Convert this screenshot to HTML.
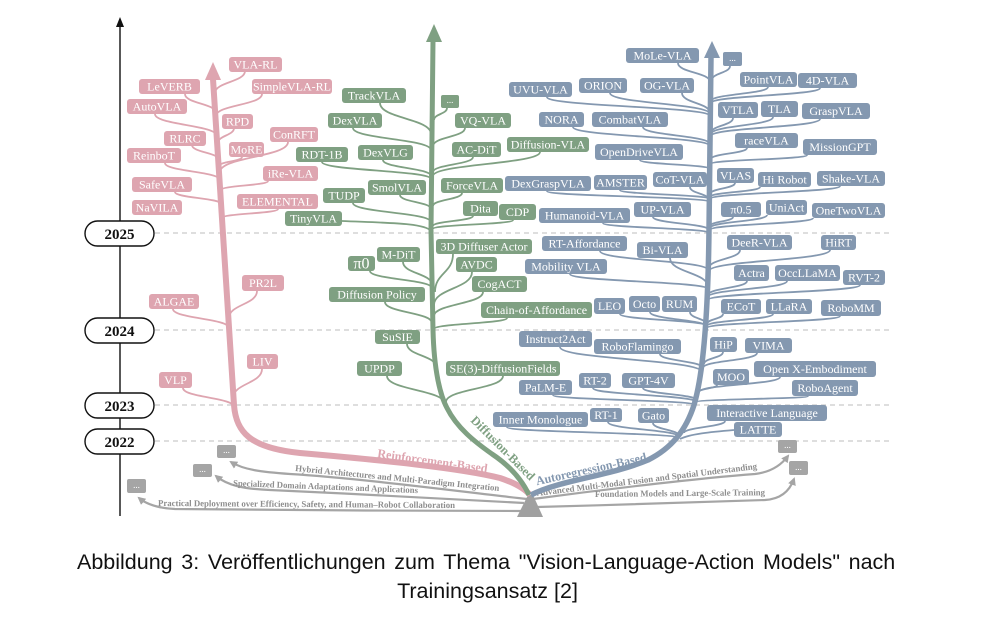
<!DOCTYPE html>
<html><head><meta charset="utf-8"><style>
html,body{margin:0;padding:0;background:#fff;width:987px;height:637px;overflow:hidden;position:relative}
svg{position:absolute;left:0;top:0}
.bx text{font-family:"Liberation Serif",serif;font-size:12px;fill:#fff;text-anchor:middle}
.yr text{font-family:"Liberation Serif",serif;font-size:15px;font-weight:bold;fill:#111;text-anchor:middle}
.gt{font-family:"Liberation Serif",serif;font-size:9px;font-weight:bold;fill:#8e8e8e}
.cat{font-family:"Liberation Serif",serif;font-size:12.5px;font-weight:bold;text-anchor:middle}
.cap{position:absolute;font-family:"Liberation Sans",Arial,sans-serif;font-size:21.5px;line-height:24px;color:#111;white-space:nowrap}
</style></head><body>
<svg width="987" height="637" viewBox="0 0 987 637" xmlns="http://www.w3.org/2000/svg">
<defs>
<marker id="ga" markerWidth="8" markerHeight="8" refX="6" refY="4" orient="auto" markerUnits="userSpaceOnUse"><path d="M0,0 L8,4 L0,8 z" fill="#a5a5a5"/></marker>
</defs>

<!-- dashed year lines -->
<g stroke="#bdbdbd" stroke-width="1" stroke-dasharray="5,4">
<line x1="155" y1="233" x2="892" y2="233"/>
<line x1="155" y1="330" x2="892" y2="330"/>
<line x1="155" y1="405" x2="892" y2="405"/>
<line x1="155" y1="441" x2="892" y2="441"/>
</g>

<!-- time axis -->
<line x1="120" y1="24" x2="120" y2="516" stroke="#111" stroke-width="1.4"/>
<polygon points="120,17 116,27 124,27" fill="#111"/>

<!-- gray lines -->
<g fill="none" stroke="#a5a5a5" stroke-width="2.2" marker-end="url(#ga)">
<path d="M527,499 C480,494 360,478 290,474 C262,472 244,470 231,462"/>
<path d="M524,503 C470,500 360,494 270,490 C245,489 228,486 216,476"/>
<path d="M521,511 C420,511 260,510 175,509 C155,508 145,503 139,498"/>
<path d="M533,499 C600,490 700,478 755,474 C772,472 782,464 788,456"/>
<path d="M537,507 C620,505 720,501 765,500 C782,499 790,490 794,479"/>
</g>
<g class="gt">
<text x="295" y="471" transform="rotate(5.6 295 471)" textLength="205" lengthAdjust="spacingAndGlyphs">Hybrid Architectures and Multi-Paradigm Integration</text>
<text x="233" y="486" transform="rotate(2.2 233 486)" textLength="185" lengthAdjust="spacingAndGlyphs">Specialized Domain Adaptations and Applications</text>
<text x="158" y="506" transform="rotate(0.4 158 506)" textLength="297" lengthAdjust="spacingAndGlyphs">Practical Deployment over Efficiency, Safety, and Human–Robot Collaboration</text>
<text x="537" y="496" transform="rotate(-7 537 496)" textLength="222" lengthAdjust="spacingAndGlyphs">Advanced Multi-Modal Fusion and Spatial Understanding</text>
<text x="595" y="497" transform="rotate(-0.6 595 497)" textLength="170" lengthAdjust="spacingAndGlyphs">Foundation Models and Large-Scale Training</text>
</g>
<g fill="#a5a5a5">
<rect x="217" y="445" width="19" height="13" rx="2"/>
<rect x="193" y="464" width="19" height="13" rx="2"/>
<rect x="127" y="479" width="19" height="14" rx="2"/>
<rect x="778" y="440" width="19" height="13" rx="2"/>
<rect x="789" y="461" width="19" height="14" rx="2"/>
</g>
<g font-family="Liberation Serif, serif" font-size="9" fill="#fff" text-anchor="middle">
<text x="226.5" y="453">...</text><text x="202.5" y="472">...</text><text x="136.5" y="488">...</text>
<text x="787.5" y="448">...</text><text x="798.5" y="470">...</text>
</g>
<polygon points="528,495 533,495 543,517 517,517" fill="#a0a0a0"/>

<!-- pink branches -->
<g fill="none" stroke="#dea5b0" stroke-width="1.8">
<path d="M245,71 C245,82 215,82 215,93"/>
<path d="M185,94 C185,103.5 216,103.5 216,113"/>
<path d="M262,94 C262,105 216,105 216,116"/>
<path d="M155,114 C155,125 217,125 217,136"/>
<path d="M234,128 C234,135.5 218,135.5 218,143"/>
<path d="M192,145 C192,152.5 219,152.5 219,160"/>
<path d="M288,142 C288,157 220,157 220,172"/>
<path d="M242,157 C242,161.5 219,161.5 219,166"/>
<path d="M165,163 C165,171.5 220,171.5 220,180"/>
<path d="M268,181 C268,185.5 221,185.5 221,190"/>
<path d="M175,192 C175,198 221,198 221,204"/>
<path d="M278,209 C278,213.5 222,213.5 222,218"/>
<path d="M257,291 C257,304.5 229,304.5 229,318"/>
<path d="M173,309 C173,318.5 229,318.5 229,328"/>
<path d="M262,369 C262,383.5 233,383.5 233,398"/>
<path d="M183,388 C183,397.5 234,397.5 234,407"/>
</g>
<!-- green branches -->
<g fill="none" stroke="#7fa082" stroke-width="1.8">
<path d="M447,108 C447,114 434,114 434,120"/>
<path d="M380,103 C380,118.5 431,118.5 431,134"/>
<path d="M353,128 C353,139 431,139 431,150"/>
<path d="M465,128 C465,137 433,137 433,146"/>
<path d="M383,160 C383,168 431,168 431,176"/>
<path d="M322,162 C322,170.5 431,170.5 431,179"/>
<path d="M473,157 C473,164.5 433,164.5 433,172"/>
<path d="M540,152 C540,164 433,164 433,176"/>
<path d="M400,195 C400,202 431,202 431,209"/>
<path d="M462,193 C462,199.5 433,199.5 433,206"/>
<path d="M353,203 C353,212.5 431,212.5 431,222"/>
<path d="M342,221 C390,223 425,223 431,231"/>
<path d="M473,216 C473,221 433,221 433,226"/>
<path d="M513,220 C513,224.5 433,224.5 433,229"/>
<path d="M453,254 C453,273 435,273 435,292"/>
<path d="M403,262 C403,273.5 432,273.5 432,285"/>
<path d="M370,271 C370,279.5 432,279.5 432,288"/>
<path d="M472,272 C472,288.5 434,288.5 434,305"/>
<path d="M483,292 C483,304 434,304 434,316"/>
<path d="M385,302 C385,312.5 432,312.5 432,323"/>
<path d="M507,318 C507,323.5 434,323.5 434,329"/>
<path d="M407,344 C407,355.5 436,355.5 436,367"/>
<path d="M387,376 C387,390 445,390 445,404"/>
<path d="M503,376 C503,389 446,389 446,402"/>
</g>
<!-- blue branches -->
<g fill="none" stroke="#8498b0" stroke-width="1.8">
<path d="M678,63 C678,72.5 710,72.5 710,82"/>
<path d="M730,66 C730,73 712,73 712,80"/>
<path d="M682,93 C682,103 710,103 710,113"/>
<path d="M610,93 C610,103.5 710,103.5 710,114"/>
<path d="M547,97 C547,106.5 710,106.5 710,116"/>
<path d="M768,87 C768,94 711,94 711,101"/>
<path d="M820,88 C820,95.5 711,95.5 711,103"/>
<path d="M573,127 C573,136.5 710,136.5 710,146"/>
<path d="M643,127 C643,135.5 710,135.5 710,144"/>
<path d="M733,118 C733,125.5 711,125.5 711,133"/>
<path d="M773,117 C773,125.5 711,125.5 711,134"/>
<path d="M820,119 C820,127.5 711,127.5 711,136"/>
<path d="M640,160 C640,164.5 710,164.5 710,169"/>
<path d="M747,148 C747,153.5 711,153.5 711,159"/>
<path d="M807,155 C807,159.5 711,159.5 711,164"/>
<path d="M690,187 C690,193.5 709,193.5 709,200"/>
<path d="M620,190 C620,194.5 709,194.5 709,199"/>
<path d="M547,191 C547,196.5 709,196.5 709,202"/>
<path d="M735,183 C735,188.5 710,188.5 710,194"/>
<path d="M760,187 C760,192 710,192 710,197"/>
<path d="M840,186 C840,192.5 710,192.5 710,199"/>
<path d="M603,223 C603,228 709,228 709,233"/>
<path d="M653,217 C653,223.5 709,223.5 709,230"/>
<path d="M733,217 C733,221.5 710,221.5 710,226"/>
<path d="M767,215 C767,221.5 710,221.5 710,228"/>
<path d="M813,218 C813,224 710,224 710,230"/>
<path d="M600,251 C600,260.5 708,260.5 708,270"/>
<path d="M570,274 C570,281.5 708,281.5 708,289"/>
<path d="M670,258 C670,272.5 708,272.5 708,287"/>
<path d="M740,250 C740,259 709,259 709,268"/>
<path d="M830,250 C830,260.5 709,260.5 709,271"/>
<path d="M747,281 C747,288 708,288 708,295"/>
<path d="M787,281 C787,289 708,289 708,297"/>
<path d="M860,285 C860,292.5 708,292.5 708,300"/>
<path d="M620,314 C620,320 707,320 707,326"/>
<path d="M650,312 C650,319.5 707,319.5 707,327"/>
<path d="M690,312 C690,318.5 707,318.5 707,325"/>
<path d="M723,314 C723,319 707,319 707,324"/>
<path d="M773,314 C773,320 707,320 707,326"/>
<path d="M840,316 C840,322 707,322 707,328"/>
<path d="M560,347 C560,359.5 702,359.5 702,372"/>
<path d="M660,354 C660,361 703,361 703,368"/>
<path d="M723,352 C723,358 704,358 704,364"/>
<path d="M757,353 C757,360.5 703,360.5 703,368"/>
<path d="M780,377 C780,384.5 699,384.5 699,392"/>
<path d="M717,385 C717,388.5 699,388.5 699,392"/>
<path d="M808,396 C808,399 697,399 697,402"/>
<path d="M593,388 C593,395 696,395 696,402"/>
<path d="M643,388 C643,394 696,394 696,400"/>
<path d="M553,395 C553,400 695,400 695,405"/>
<path d="M608,422 C608,429.5 679,429.5 679,437"/>
<path d="M653,423 C653,429.5 679,429.5 679,436"/>
<path d="M507,427 C507,432.5 678,432.5 678,438"/>
<path d="M725,421 C725,427 684,427 684,433"/>
<path d="M734,430 C710,432 690,434 680,439"/>
</g>

<!-- trunks -->
<path d="M213,79 L234,405 C236,432 250,448 300,453 C380,460 460,468 500,478 C515,483 524,488 530,495" fill="none" stroke="#dea5b0" stroke-width="6"/>
<polygon points="213,62 205,80 221,80" fill="#dea5b0"/>
<path d="M433,40 L431,230 L433,330 C434,370 440,395 447,408 C457,428 475,442 492,454 C510,466 522,480 529,495" fill="none" stroke="#7fa082" stroke-width="5"/>
<polygon points="434,24 426,42 442,42" fill="#7fa082"/>
<path d="M711,57 L709,230 C708,320 703,375 694,405 C686,430 672,448 648,460 C610,476 560,480 531,495" fill="none" stroke="#8498b0" stroke-width="5.5"/>
<polygon points="712,41 704,58 720,58" fill="#8498b0"/>

<!-- category labels -->
<text class="cat" fill="#dea5b0" x="432" y="465" transform="rotate(8 432 465)" textLength="111" lengthAdjust="spacingAndGlyphs">Reinforcement-Based</text>
<text class="cat" fill="#7fa082" x="500" y="451" transform="rotate(45 500 451)" textLength="85" lengthAdjust="spacingAndGlyphs">Diffusion-Based</text>
<text class="cat" fill="#8498b0" x="592" y="473" transform="rotate(-12.5 592 473)" textLength="113" lengthAdjust="spacingAndGlyphs">Autoregression-Based</text>

<!-- pink boxes -->
<g class="bx" fill="#dea5b0">
<rect x="229" y="57" width="53" height="15" rx="3"/><text x="255.5" y="68.5">VLA-RL</text>
<rect x="139" y="79" width="61" height="15" rx="3"/><text x="169.5" y="90.5">LeVERB</text>
<rect x="252" y="79" width="80" height="15" rx="3"/><text x="292" y="90.5">SimpleVLA-RL</text>
<rect x="127" y="99" width="60" height="15" rx="3"/><text x="157" y="110.5">AutoVLA</text>
<rect x="222" y="114" width="31" height="15" rx="3"/><text x="237.5" y="125.5">RPD</text>
<rect x="164" y="131" width="42" height="15" rx="3"/><text x="185" y="142.5">RLRC</text>
<rect x="270" y="127" width="48" height="15" rx="3"/><text x="294" y="138.5">ConRFT</text>
<rect x="229" y="142" width="35" height="15" rx="3"/><text x="246.5" y="153.5">MoRE</text>
<rect x="127" y="148" width="54" height="15" rx="3"/><text x="154" y="159.5">ReinboT</text>
<rect x="263" y="166" width="55" height="15" rx="3"/><text x="290.5" y="177.5">iRe-VLA</text>
<rect x="132" y="177" width="60" height="15" rx="3"/><text x="162" y="188.5">SafeVLA</text>
<rect x="237" y="194" width="81" height="15" rx="3"/><text x="277.5" y="205.5">ELEMENTAL</text>
<rect x="132" y="200" width="50" height="15" rx="3"/><text x="157" y="211.5">NaVILA</text>
<rect x="242" y="275" width="42" height="16" rx="3"/><text x="263" y="287">PR2L</text>
<rect x="149" y="294" width="50" height="15" rx="3"/><text x="174" y="305.5">ALGAE</text>
<rect x="247" y="354" width="31" height="15" rx="3"/><text x="262.5" y="365.5">LIV</text>
<rect x="159" y="372" width="33" height="16" rx="3"/><text x="175.5" y="384">VLP</text>
</g>

<!-- green boxes -->
<g class="bx" fill="#7fa082">
<rect x="342" y="88" width="64" height="15" rx="3"/><text x="374" y="99.5">TrackVLA</text>
<rect x="441" y="95" width="18" height="13" rx="2"/><text x="450" y="103" style="font-size:9px">...</text>
<rect x="328" y="113" width="54" height="15" rx="3"/><text x="355" y="124.5">DexVLA</text>
<rect x="455" y="113" width="56" height="15" rx="3"/><text x="483" y="124.5">VQ-VLA</text>
<rect x="358" y="145" width="55" height="15" rx="3"/><text x="385.5" y="156.5">DexVLG</text>
<rect x="452" y="142" width="49" height="15" rx="3"/><text x="476.5" y="153.5">AC-DiT</text>
<rect x="507" y="137" width="82" height="15" rx="3"/><text x="548" y="148.5">Diffusion-VLA</text>
<rect x="296" y="147" width="52" height="15" rx="3"/><text x="322" y="158.5">RDT-1B</text>
<rect x="368" y="180" width="58" height="15" rx="3"/><text x="397" y="191.5">SmolVLA</text>
<rect x="441" y="178" width="62" height="15" rx="3"/><text x="472" y="189.5">ForceVLA</text>
<rect x="323" y="188" width="42" height="15" rx="3"/><text x="344" y="199.5">TUDP</text>
<rect x="285" y="211" width="57" height="15" rx="3"/><text x="313.5" y="222.5">TinyVLA</text>
<rect x="463" y="201" width="35" height="15" rx="3"/><text x="480.5" y="212.5">Dita</text>
<rect x="499" y="204" width="37" height="16" rx="3"/><text x="517.5" y="216">CDP</text>
<rect x="436" y="239" width="96" height="15" rx="3"/><text x="484" y="250.5">3D Diffuser Actor</text>
<rect x="377" y="247" width="43" height="15" rx="3"/><text x="398.5" y="258.5">M-DiT</text>
<rect x="348" y="256" width="27" height="15" rx="3"/><text x="361.5" y="268.5" style="font-size:16px">π0</text>
<rect x="456" y="257" width="41" height="15" rx="3"/><text x="476.5" y="268.5">AVDC</text>
<rect x="472" y="276" width="55" height="16" rx="3"/><text x="499.5" y="288">CogACT</text>
<rect x="329" y="287" width="96" height="15" rx="3"/><text x="377" y="298.5">Diffusion Policy</text>
<rect x="481" y="302" width="111" height="16" rx="3"/><text x="536.5" y="314">Chain-of-Affordance</text>
<rect x="375" y="330" width="45" height="14" rx="3"/><text x="397.5" y="341">SuSIE</text>
<rect x="357" y="361" width="45" height="15" rx="3"/><text x="379.5" y="372.5">UPDP</text>
<rect x="446" y="361" width="114" height="15" rx="3"/><text x="503" y="372.5">SE(3)-DiffusionFields</text>
</g>

<!-- blue boxes -->
<g class="bx" fill="#8498b0">
<rect x="626" y="48" width="73" height="15" rx="3"/><text x="662.5" y="59.5">MoLe-VLA</text>
<rect x="723" y="52" width="19" height="14" rx="2"/><text x="732.5" y="61" style="font-size:9px">...</text>
<rect x="509" y="82" width="63" height="15" rx="3"/><text x="540.5" y="93.5">UVU-VLA</text>
<rect x="579" y="78" width="48" height="15" rx="3"/><text x="603" y="89.5">ORION</text>
<rect x="640" y="78" width="54" height="15" rx="3"/><text x="667" y="89.5">OG-VLA</text>
<rect x="740" y="72" width="57" height="15" rx="3"/><text x="768.5" y="83.5">PointVLA</text>
<rect x="798" y="73" width="59" height="15" rx="3"/><text x="827.5" y="84.5">4D-VLA</text>
<rect x="539" y="112" width="45" height="15" rx="3"/><text x="561.5" y="123.5">NORA</text>
<rect x="592" y="112" width="76" height="15" rx="3"/><text x="630" y="123.5">CombatVLA</text>
<rect x="718" y="102" width="40" height="16" rx="3"/><text x="738" y="114">VTLA</text>
<rect x="761" y="101" width="37" height="16" rx="3"/><text x="779.5" y="113">TLA</text>
<rect x="802" y="103" width="68" height="16" rx="3"/><text x="836" y="115">GraspVLA</text>
<rect x="735" y="133" width="63" height="15" rx="3"/><text x="766.5" y="144.5">raceVLA</text>
<rect x="803" y="139" width="74" height="16" rx="3"/><text x="840" y="151">MissionGPT</text>
<rect x="595" y="144" width="88" height="16" rx="3"/><text x="639" y="156">OpenDriveVLA</text>
<rect x="505" y="176" width="86" height="15" rx="3"/><text x="548" y="187.5">DexGraspVLA</text>
<rect x="594" y="175" width="53" height="15" rx="3"/><text x="620.5" y="186.5">AMSTER</text>
<rect x="653" y="172" width="54" height="15" rx="3"/><text x="680" y="183.5">CoT-VLA</text>
<rect x="717" y="168" width="37" height="15" rx="3"/><text x="735.5" y="179.5">VLAS</text>
<rect x="758" y="172" width="53" height="15" rx="3"/><text x="784.5" y="183.5">Hi Robot</text>
<rect x="817" y="171" width="68" height="15" rx="3"/><text x="851" y="182.5">Shake-VLA</text>
<rect x="539" y="208" width="91" height="15" rx="3"/><text x="584.5" y="219.5">Humanoid-VLA</text>
<rect x="634" y="202" width="57" height="15" rx="3"/><text x="662.5" y="213.5">UP-VLA</text>
<rect x="721" y="202" width="40" height="15" rx="3"/><text x="741" y="213.5">π0.5</text>
<rect x="766" y="200" width="41" height="15" rx="3"/><text x="786.5" y="211.5">UniAct</text>
<rect x="812" y="203" width="73" height="15" rx="3"/><text x="848.5" y="214.5">OneTwoVLA</text>
<rect x="542" y="236" width="85" height="15" rx="3"/><text x="584.5" y="247.5">RT-Affordance</text>
<rect x="525" y="259" width="82" height="15" rx="3"/><text x="566" y="270.5">Mobility VLA</text>
<rect x="637" y="242" width="51" height="16" rx="3"/><text x="662.5" y="254">Bi-VLA</text>
<rect x="727" y="235" width="65" height="15" rx="3"/><text x="759.5" y="246.5">DeeR-VLA</text>
<rect x="821" y="235" width="35" height="15" rx="3"/><text x="838.5" y="246.5">HiRT</text>
<rect x="734" y="265" width="35" height="16" rx="3"/><text x="751.5" y="277">Actra</text>
<rect x="775" y="265" width="65" height="16" rx="3"/><text x="807.5" y="277">OccLLaMA</text>
<rect x="843" y="270" width="42" height="15" rx="3"/><text x="864" y="281.5">RVT-2</text>
<rect x="594" y="298" width="31" height="16" rx="3"/><text x="609.5" y="310">LEO</text>
<rect x="629" y="296" width="31" height="16" rx="3"/><text x="644.5" y="308">Octo</text>
<rect x="662" y="296" width="35" height="16" rx="3"/><text x="679.5" y="308">RUM</text>
<rect x="721" y="299" width="40" height="15" rx="3"/><text x="741" y="310.5">ECoT</text>
<rect x="766" y="299" width="46" height="15" rx="3"/><text x="789" y="310.5">LLaRA</text>
<rect x="821" y="300" width="60" height="16" rx="3"/><text x="851" y="312">RoboMM</text>
<rect x="519" y="331" width="73" height="16" rx="3"/><text x="555.5" y="343">Instruct2Act</text>
<rect x="594" y="339" width="87" height="15" rx="3"/><text x="637.5" y="350.5">RoboFlamingo</text>
<rect x="710" y="337" width="27" height="15" rx="3"/><text x="723.5" y="348.5">HiP</text>
<rect x="745" y="338" width="47" height="15" rx="3"/><text x="768.5" y="349.5">VIMA</text>
<rect x="754" y="361" width="122" height="16" rx="3"/><text x="815" y="373">Open X-Embodiment</text>
<rect x="713" y="369" width="36" height="16" rx="3"/><text x="731" y="381">MOO</text>
<rect x="579" y="373" width="32" height="15" rx="3"/><text x="595" y="384.5">RT-2</text>
<rect x="622" y="373" width="53" height="15" rx="3"/><text x="648.5" y="384.5">GPT-4V</text>
<rect x="792" y="380" width="66" height="16" rx="3"/><text x="825" y="392">RoboAgent</text>
<rect x="519" y="380" width="53" height="15" rx="3"/><text x="545.5" y="391.5">PaLM-E</text>
<rect x="493" y="412" width="95" height="15" rx="3"/><text x="540.5" y="423.5">Inner Monologue</text>
<rect x="590" y="408" width="32" height="14" rx="3"/><text x="606" y="419">RT-1</text>
<rect x="638" y="408" width="31" height="15" rx="3"/><text x="653.5" y="419.5">Gato</text>
<rect x="707" y="405" width="120" height="16" rx="3"/><text x="767" y="417">Interactive Language</text>
<rect x="734" y="422" width="48" height="15" rx="3"/><text x="758" y="433.5">LATTE</text>
</g>

<!-- year pills -->
<g class="yr">
<rect x="85" y="221" width="69" height="25" rx="12.5" fill="#fff" stroke="#111" stroke-width="1.4"/><text x="119.5" y="239">2025</text>
<rect x="85" y="318" width="69" height="25" rx="12.5" fill="#fff" stroke="#111" stroke-width="1.4"/><text x="119.5" y="336">2024</text>
<rect x="85" y="393" width="69" height="25" rx="12.5" fill="#fff" stroke="#111" stroke-width="1.4"/><text x="119.5" y="411">2023</text>
<rect x="85" y="429" width="69" height="25" rx="12.5" fill="#fff" stroke="#111" stroke-width="1.4"/><text x="119.5" y="447">2022</text>
</g>
</svg>

<div class="cap" style="left:77px;top:550px;word-spacing:2.7px">Abbildung 3: Veröffentlichungen zum Thema "Vision-Language-Action Models" nach</div>
<div class="cap" style="left:0;width:975px;top:579px;text-align:center">Trainingsansatz [2]</div>
</body></html>
